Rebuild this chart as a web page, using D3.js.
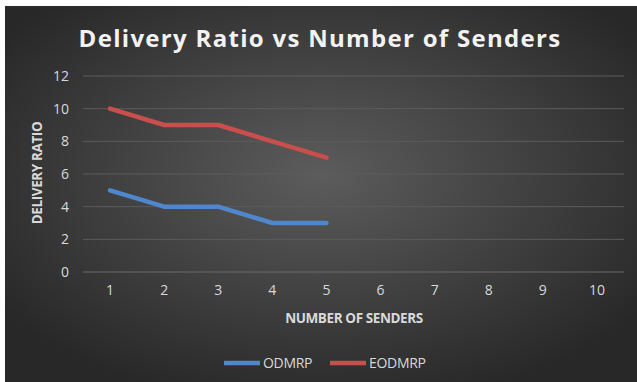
<!DOCTYPE html>
<html>
<head>
<meta charset="utf-8">
<script src="https://cdn.jsdelivr.net/npm/d3@7"></script>
<style>
  body { margin: 0; background: #fff; }
  text { font-family: "Open Sans", "Liberation Sans", sans-serif; }
</style>
</head>
<body>
<div id="wrapper"></div>
<script>
const senders = ["1", "2", "3", "4", "5", "6", "7", "8", "9", "10"];
const odmrp = [5, 4, 4, 3, 3];
const eodmrp = [10, 9, 9, 8, 7];
const yTicks = [0, 2, 4, 6, 8, 10, 12];

const series = [
  { name: "ODMRP", values: odmrp, color: "#4f86cc" },
  { name: "EODMRP", values: eodmrp, color: "#c84f4c" }
];

const dims = {
  width: 637,
  height: 382,
  margin: { top: 76, right: 13, bottom: 110, left: 83 }
};
dims.boundedWidth = dims.width - dims.margin.left - dims.margin.right;
dims.boundedHeight = dims.height - dims.margin.top - dims.margin.bottom;

const svg = d3.select("#wrapper")
  .append("svg")
  .attr("width", dims.width)
  .attr("height", dims.height);

// background with radial glow
const defs = svg.append("defs");
const grad = defs.append("radialGradient")
  .attr("id", "bg")
  .attr("cx", "50%").attr("cy", "45%").attr("r", "62%");
grad.append("stop").attr("offset", "0%").attr("stop-color", "#5c5c5c");
grad.append("stop").attr("offset", "100%").attr("stop-color", "#282828");

svg.append("rect")
  .attr("x", 5).attr("y", 6)
  .attr("width", dims.width - 5).attr("height", dims.height - 6)
  .attr("fill", "url(#bg)");

svg.append("text")
  .attr("x", 320).attr("y", 47)
  .attr("text-anchor", "middle")
  .attr("fill", "#f2f2f2")
  .style("font-size", "24px")
  .style("font-weight", "bold")
  .style("letter-spacing", "1.3px")
  .text("Delivery Ratio vs Number of Senders");

const bounds = svg.append("g")
  .attr("transform", `translate(${dims.margin.left},${dims.margin.top})`);

const xScale = d3.scaleBand()
  .domain(senders)
  .range([0, dims.boundedWidth]);

const yScale = d3.scaleLinear()
  .domain([0, 12])
  .range([dims.boundedHeight, 0]);

// gridlines
bounds.append("g")
  .selectAll("line")
  .data(yTicks)
  .join("line")
  .attr("x1", 0).attr("x2", dims.boundedWidth)
  .attr("y1", d => yScale(d)).attr("y2", d => yScale(d))
  .attr("stroke", d => d === 0 ? "#6a6a6a" : "#5c5c5c")
  .attr("stroke-width", 1);

const yAxis = bounds.append("g")
  .call(d3.axisLeft(yScale).tickValues(yTicks).tickSize(0).tickPadding(14));
yAxis.select(".domain").remove();
yAxis.selectAll("text")
  .attr("fill", "#d9d9d9")
  .style("font-size", "14px");

const xAxis = bounds.append("g")
  .attr("transform", `translate(0,${dims.boundedHeight})`)
  .call(d3.axisBottom(xScale).tickSize(0).tickPadding(13));
xAxis.select(".domain").remove();
xAxis.selectAll("text")
  .attr("fill", "#d9d9d9")
  .style("font-size", "14px");

svg.append("text")
  .attr("x", 354).attr("y", 323)
  .attr("text-anchor", "middle")
  .attr("fill", "#d9d9d9")
  .style("font-size", "13.5px")
  .style("font-weight", "bold")
  .style("letter-spacing", "-0.4px")
  .text("NUMBER OF SENDERS");

svg.append("text")
  .attr("transform", "translate(42,173) rotate(-90)")
  .attr("text-anchor", "middle")
  .attr("fill", "#d9d9d9")
  .style("font-size", "13.5px")
  .style("font-weight", "bold")
  .style("letter-spacing", "-0.4px")
  .text("DELIVERY RATIO");

const line = d3.line()
  .x((d, i) => xScale(senders[i]) + xScale.bandwidth() / 2)
  .y(d => yScale(d));

bounds.selectAll(".series")
  .data(series)
  .join("path")
  .attr("class", "series")
  .attr("d", d => line(d.values))
  .attr("fill", "none")
  .attr("stroke", d => d.color)
  .attr("stroke-width", 4.5)
  .attr("stroke-linecap", "round")
  .attr("stroke-linejoin", "round");

// legend
const legend = svg.append("g");
const legendX = [224, 330];
series.forEach((s, i) => {
  const g = legend.append("g").attr("transform", `translate(${legendX[i]},363)`);
  g.append("line")
    .attr("x1", 0).attr("x2", 36)
    .attr("stroke", s.color)
    .attr("stroke-width", 4.5);
  g.append("text")
    .attr("x", 39).attr("y", 5)
    .attr("fill", "#d9d9d9")
    .style("font-size", "14px")
    .style("letter-spacing", "-0.3px")
    .text(s.name);
});
</script>
</body>
</html>
